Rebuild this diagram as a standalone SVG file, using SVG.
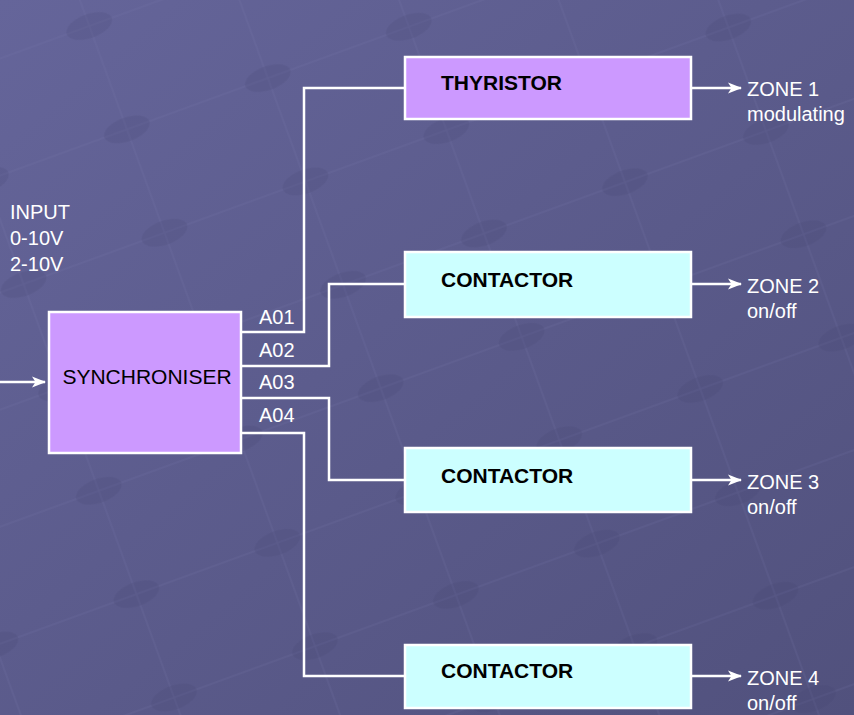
<svg xmlns="http://www.w3.org/2000/svg" width="854" height="715" viewBox="0 0 854 715">
  <defs>
    <linearGradient id="bg" x1="0" y1="0" x2="1" y2="1">
      <stop offset="0" stop-color="#65659a"/>
      <stop offset="1" stop-color="#51517d"/>
    </linearGradient>
    <pattern id="dots" width="150" height="110" patternUnits="userSpaceOnUse" patternTransform="rotate(-20)">
      <path d="M0 55 L150 55 M75 0 L75 110" stroke="#7a7ab0" stroke-opacity="0.18" stroke-width="1.5" fill="none"/>
      <ellipse cx="75" cy="55" rx="24" ry="12" fill="#3f3f6a" fill-opacity="0.16"/>
    </pattern>
    <marker id="arr" viewBox="0 0 14 12" refX="13" refY="6" markerWidth="14" markerHeight="12" markerUnits="userSpaceOnUse" orient="auto">
      <path d="M0,0.5 L14,6 L0,11.5 L3.5,6 Z" fill="#ffffff"/>
    </marker>
    <style>
      .box { stroke: #ffffff; stroke-width: 2.5; }
      .purple { fill: #cc99ff; }
      .cyan { fill: #ccffff; }
      .conn { fill: none; stroke: #ffffff; stroke-width: 2.5; }
      .lbl { font-family: "Liberation Sans", Arial, sans-serif; font-size: 20px; fill: #ffffff; }
      .btxt { font-family: "Liberation Sans", Arial, sans-serif; font-size: 21px; font-weight: bold; fill: #000000; }
      .ntxt { font-family: "Liberation Sans", Arial, sans-serif; font-size: 21px; fill: #000000; }
    </style>
  </defs>

  <rect x="0" y="0" width="854" height="715" fill="url(#bg)"/>
  <rect x="0" y="0" width="854" height="715" fill="url(#dots)"/>

  <g id="connectors">
    <path class="conn" d="M0 382 L45 382" marker-end="url(#arr)"/>
    <path class="conn" d="M241 332 L304 332 L304 88 L405 88"/>
    <path class="conn" d="M241 366 L329 366 L329 284 L405 284"/>
    <path class="conn" d="M241 398 L329 398 L329 480 L405 480"/>
    <path class="conn" d="M241 433 L304 433 L304 676 L405 676"/>
    <path class="conn" d="M691 88 L741 88" marker-end="url(#arr)"/>
    <path class="conn" d="M691 284 L741 284" marker-end="url(#arr)"/>
    <path class="conn" d="M691 480 L741 480" marker-end="url(#arr)"/>
    <path class="conn" d="M691 676 L741 676" marker-end="url(#arr)"/>
    <text class="lbl" x="259" y="324">A01</text>
    <text class="lbl" x="259" y="357">A02</text>
    <text class="lbl" x="259" y="389">A03</text>
    <text class="lbl" x="259" y="422">A04</text>
  </g>

  <g id="input">
    <text class="lbl" x="10" y="219">INPUT</text>
    <text class="lbl" x="10" y="245">0-10V</text>
    <text class="lbl" x="10" y="271">2-10V</text>
  </g>

  <g id="synchroniser">
    <rect class="box purple" x="49" y="312" width="192" height="141"/>
    <text class="ntxt" x="147" y="384" text-anchor="middle">SYNCHRONISER</text>
  </g>

  <g id="thyristor">
    <rect class="box purple" x="405" y="57" width="286" height="62"/>
    <text class="btxt" x="441" y="90">THYRISTOR</text>
  </g>

  <g id="contactor1">
    <rect class="box cyan" x="405" y="252" width="286" height="65"/>
    <text class="btxt" x="441" y="287">CONTACTOR</text>
  </g>

  <g id="contactor2">
    <rect class="box cyan" x="405" y="448" width="286" height="64"/>
    <text class="btxt" x="441" y="483">CONTACTOR</text>
  </g>

  <g id="contactor3">
    <rect class="box cyan" x="405" y="645" width="286" height="63"/>
    <text class="btxt" x="441" y="678">CONTACTOR</text>
  </g>

  <g id="zone1">
    <text class="lbl" x="747" y="96">ZONE 1</text>
    <text class="lbl" x="747" y="121">modulating</text>
  </g>
  <g id="zone2">
    <text class="lbl" x="747" y="293">ZONE 2</text>
    <text class="lbl" x="747" y="318">on/off</text>
  </g>
  <g id="zone3">
    <text class="lbl" x="747" y="489">ZONE 3</text>
    <text class="lbl" x="747" y="514">on/off</text>
  </g>
  <g id="zone4">
    <text class="lbl" x="747" y="685">ZONE 4</text>
    <text class="lbl" x="747" y="710">on/off</text>
  </g>
</svg>
